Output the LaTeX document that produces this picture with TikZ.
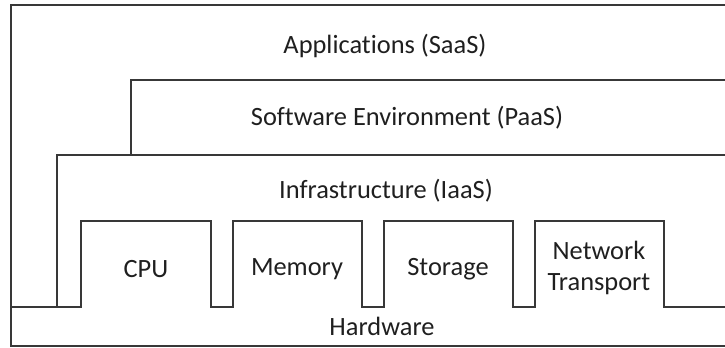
\documentclass[tikz,border=0pt]{standalone}
\usepackage{fontspec}
\setmainfont{Carlito}[Ligatures={NoCommon,NoContextual}]
\begin{document}
\begin{tikzpicture}[x=1bp,y=-1bp,
  frame/.style={draw=black!78,line width=1.3bp,line join=miter},
  label/.style={font=\fontsize{26.5}{32}\selectfont,text=black!88,align=center,inner sep=0pt}]
\useasboundingbox (0,0) rectangle (725,347);
% outer frame (SaaS layer), open to the right
\draw[frame] (725,5) -- (11,5) -- (11,346) -- (725,346);
% PaaS layer
\draw[frame] (725,80) -- (131,80) -- (131,155);
% IaaS layer
\draw[frame] (725,155) -- (57,155) -- (57,307);
% hardware boundary with the resource blocks
\draw[frame] (11,307) -- (81,307) -- (81,221) -- (211,221) -- (211,307)
  -- (233,307) -- (233,221) -- (362,221) -- (362,307)
  -- (384,307) -- (384,221) -- (513,221) -- (513,307)
  -- (535,307) -- (535,221) -- (664,221) -- (664,307) -- (725,307);
% texts
\node[label] (saas) at (385,46) {Applications (SaaS)};
\node[label] (paas) at (407,118) {Software Environment (PaaS)};
\node[label] (iaas) at (386,191) {Infrastructure (IaaS)};
\node[label] (cpu) at (146,269) {CPU};
\node[label] (mem) at (297,269) {Memory};
\node[label] (sto) at (448,269) {Storage};
\node[label] (net) at (599,268) {Network\\Transport};
\node[label] (hw) at (382,326) {Hardware};
\end{tikzpicture}
\end{document}
